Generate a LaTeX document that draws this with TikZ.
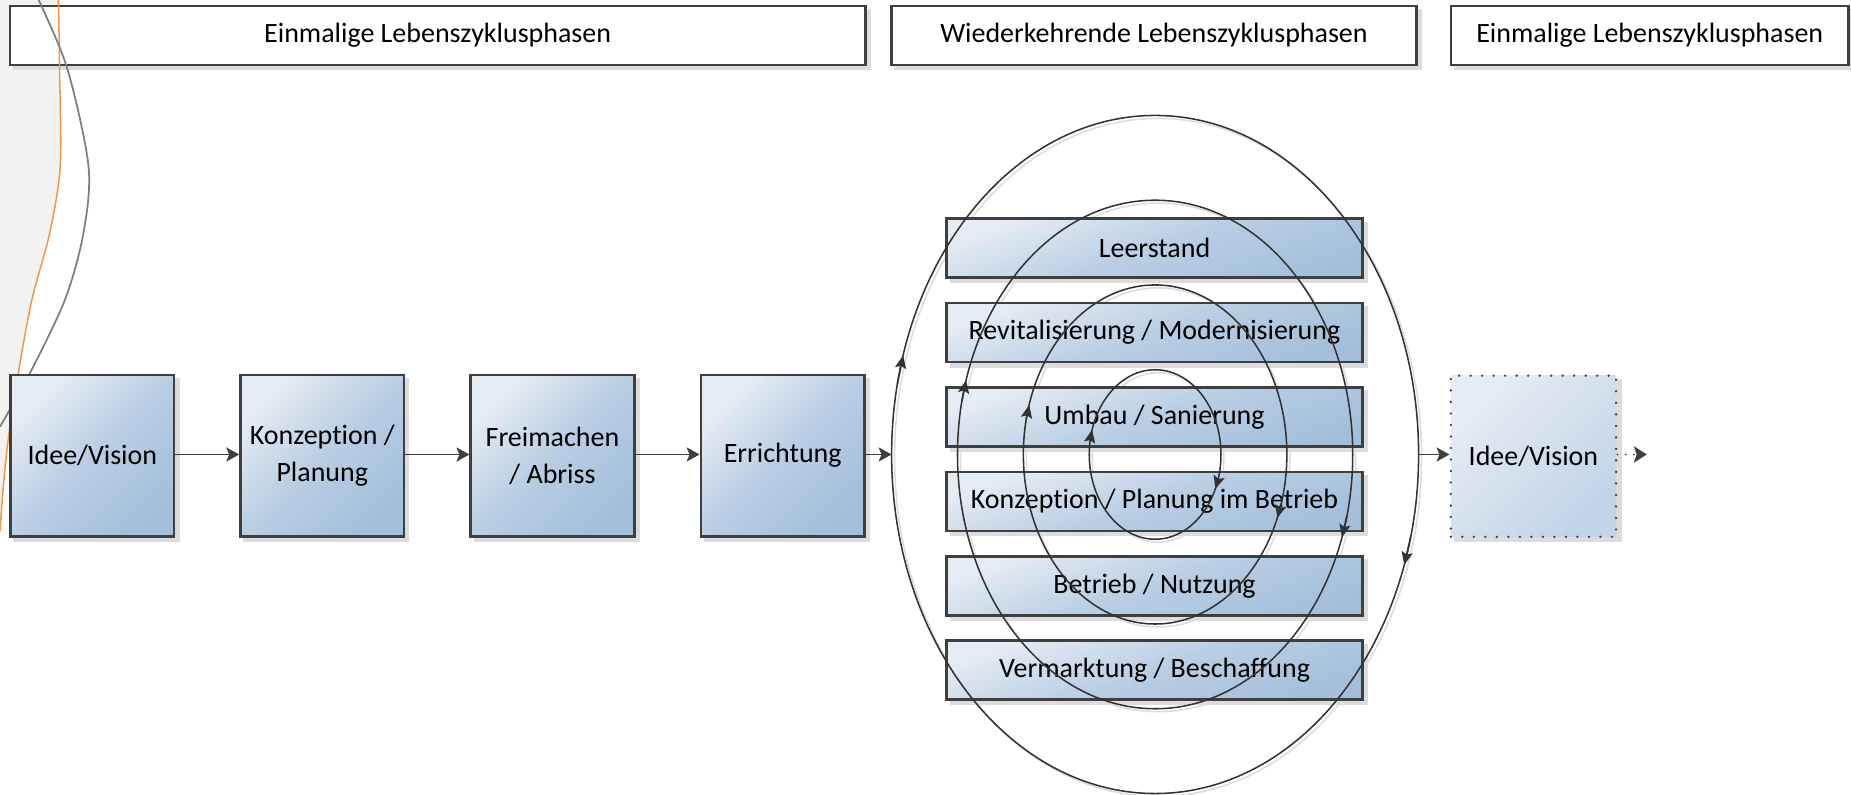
\documentclass[tikz,border=0pt]{standalone}
\usepackage{fontspec}
\setmainfont{Carlito}[Ligatures=NoCommon]
\usetikzlibrary{arrows.meta}
\definecolor{bordc}{HTML}{3F3F3F}
\definecolor{linec}{HTML}{333333}
\definecolor{boxL}{HTML}{E6ECF3}
\definecolor{boxM}{HTML}{B9CEE3}
\definecolor{boxD}{HTML}{A3BFDB}
\definecolor{boxM2}{HTML}{D3E0ED}
\definecolor{boxD2}{HTML}{C1D4E8}
\definecolor{shadowc}{HTML}{DCDCDC}
\definecolor{bgc}{HTML}{F2F2F2}
\definecolor{orangec}{HTML}{F79646}
\definecolor{greyc}{HTML}{7F7F7F}
\pgfdeclarelayer{back}
\pgfdeclarelayer{shad}
\pgfsetlayers{back,shad,main}
\newcommand{\boxshadow}[1]{\begin{pgfonlayer}{shad}\fill[shadowc] ([shift={(3.5,3.5)}]#1.south west) rectangle ([shift={(3.5,3.5)}]#1.north east);\end{pgfonlayer}}
\begin{document}
\begin{tikzpicture}[x=1pt,y=-1pt,
  font=\fontsize{23.7}{31.5}\selectfont,
  header/.style={draw=bordc, line width=2.2pt, fill=white, minimum height=50, inner sep=0},
  phase/.style={draw=bordc, line width=2.2pt, top color=boxL, bottom color=boxD, middle color=boxM, shading angle=45,
     minimum width=138.5, minimum height=136.5, inner sep=0, align=center},
  stackbox/.style={draw=bordc, line width=2.2pt, top color=boxL, bottom color=boxD, middle color=boxM, shading angle=20,
     minimum width=352, minimum height=50, inner sep=0},
  dotbox/.style={draw=bordc, line width=2.2pt, dash pattern=on 0pt off 9.75pt, line cap=round,
     top color=boxL, bottom color=boxD2, middle color=boxM2, shading angle=45, minimum width=140, minimum height=136.5, inner sep=0},
  conn/.style={draw=bordc, line width=1.4pt, -{Stealth[length=11pt,width=12pt,inset=2.5pt]}},
  ring/.style={draw=linec, line width=1.3pt},
  ringshadow/.style={draw=shadowc, line width=1.3pt},
  ringtip/.style={draw=linec, line width=1.3pt, -{Stealth[length=11pt,width=9.5pt,inset=2pt]}}
]
\useasboundingbox (0,0) rectangle (1568,673.4);

% background decoration
\begin{pgfonlayer}{back}
\fill[bgc] (-5,-5) -- plot[smooth] coordinates {(49.4,-5) (50.5,60) (51,141) (42,198) (27,254) (15.5,316) (7,372) (3,410) (0,450)} -- (-5,460) -- cycle;
\end{pgfonlayer}

% headers
\node[header, minimum width=724.5] (h1) at (370.75,30) {Einmalige Lebenszyklusphasen};
\node[header, minimum width=445] (h2) at (977.5,30) {Wiederkehrende Lebenszyklusphasen};
\node[header, minimum width=337] (h3) at (1397.5,30) {Einmalige Lebenszyklusphasen};
\boxshadow{h1}\boxshadow{h2}\boxshadow{h3}

% decorative curves
\draw[orangec, line width=1.3pt] plot[smooth] coordinates {(49.4,-5) (50.5,60) (51,141) (42,198) (27,254) (15.5,316) (7,372) (3,410) (0,450)};
\draw[greyc, line width=1.5pt] plot[smooth] coordinates {(29,-8) (56.5,56.5) (75,141) (70.6,198) (55,254) (25.4,316) (0,361.5)};

% one-time phases
\node[phase] (idee) at (78.25,386) {Idee/Vision};
\node[phase] (konz) at (273,386) {Konzeption /\\Planung};
\node[phase] (frei) at (468,386) {Freimachen\\/ Abriss};
\node[phase] (erri) at (663,386) {Errichtung};
\boxshadow{idee}\boxshadow{konz}\boxshadow{frei}\boxshadow{erri}

% recurring phases
\node[stackbox] (leer) at (978,210.25) {Leerstand};
\node[stackbox] (revi) at (978,281.75) {Revitalisierung / Modernisierung};
\node[stackbox] (umba) at (978,353.25) {Umbau / Sanierung};
\node[stackbox] (kpib) at (978,424.75) {Konzeption / Planung im Betrieb};
\node[stackbox] (betr) at (978,496.25) {Betrieb / Nutzung};
\node[stackbox] (verm) at (978,567.75) {Vermarktung / Beschaffung};
\boxshadow{leer}\boxshadow{revi}\boxshadow{umba}\boxshadow{kpib}\boxshadow{betr}\boxshadow{verm}

% next cycle
\node[dotbox] (idee2) at (1299,386.5) {Idee/Vision};
\boxshadow{idee2}

% rings
\def\cx{978.5}\def\cy{385}
\foreach \k/\ang in {1/24,2/22,3/19,4/19}{
  \pgfmathsetmacro{\a}{55.8*\k}
  \pgfmathsetmacro{\b}{71.8*\k}
  \begin{pgfonlayer}{shad}
  \draw[ringshadow] (\cx+2.5,\cy+2.5) ellipse [x radius=\a, y radius=\b];
  \end{pgfonlayer}
  \draw[ring] (\cx,\cy) ellipse [x radius=\a, y radius=\b];
  \draw[ringtip] ({\cx+\a*cos(192)},{\cy+\b*sin(192)}) -- ({\cx+\a*cos(197)},{\cy+\b*sin(197)});
  \draw[ringtip] ({\cx+\a*cos(\ang-5)},{\cy+\b*sin(\ang-5)}) -- ({\cx+\a*cos(\ang)},{\cy+\b*sin(\ang)});
}
\coordinate (ringL) at (\cx-223.2,385);
\coordinate (ringR) at (\cx+223.2,385);
\coordinate (endtip) at (1395,385);

% connectors
\draw[conn] (idee.east |- 0,385) -- (konz.west |- 0,385);
\draw[conn] (konz.east |- 0,385) -- (frei.west |- 0,385);
\draw[conn] (frei.east |- 0,385) -- (erri.west |- 0,385);
\draw[conn] (erri.east |- 0,385) -- (ringL);
\draw[conn] (ringR) -- (idee2.west |- 0,385);
\draw[draw=bordc, line width=1.6pt, dash pattern=on 0pt off 7pt, line cap=round, -{Stealth[length=11pt,width=14pt,inset=2.5pt]}] (idee2.east |- 0,385) -- (endtip);
\end{tikzpicture}
\end{document}
